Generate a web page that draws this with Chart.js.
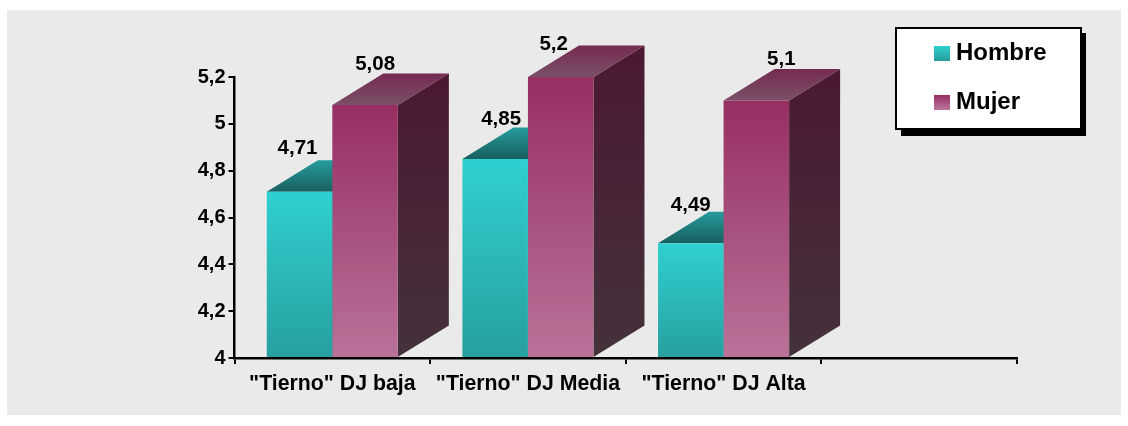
<!DOCTYPE html>
<html><head><meta charset="utf-8">
<style>html,body{margin:0;padding:0;background:#fff}canvas{display:block}</style>
<script src="https://cdn.jsdelivr.net/npm/chart.js@4"></script></head>
<body><div style="width:1128px;height:426px"><canvas id="c" width="1128" height="426"></canvas></div>
<script>
const categories = ['"Tierno" DJ baja', '"Tierno" DJ Media', '"Tierno" DJ Alta', ''];
const hombre = [4.71, 4.85, 4.49, null];
const mujer = [5.08, 5.2, 5.1, null];
const yMin = 4, yMax = 5.2, yStep = 0.2;

const FONT = '"Liberation Sans", Arial, sans-serif';
const DX = 51, DY = 31.5;
const palettes = [
  {front:['#30D0D0','#279F9F'], side:['#123F3F','#123F3F'], top:['#269C9C','#175F5F']},
  {front:['#962F62','#BA7299'], side:['#4C1833','#44323B'], top:['#762A52','#7A5068']}
];
const labelShift = [[[-2,-43],[6,-40],[0,-38]],[[10,-41],[-7,-33],[25,-41]]];
const comma = v => String(+Number(v).toFixed(2)).replace('.', ',');

function frontGradient(i){
  return ctx => {
    const ch = ctx.chart;
    if(!ch.chartArea || ctx.raw == null) return palettes[i].front[0];
    const y = ch.scales.y, top = y.getPixelForValue(ctx.raw), bot = y.getPixelForValue(yMin);
    const g = ch.ctx.createLinearGradient(0, top, 0, bot);
    g.addColorStop(0, palettes[i].front[0]); g.addColorStop(1, palettes[i].front[1]);
    return g;
  };
}
function poly(c, pts, fill){
  c.beginPath(); pts.forEach((p,k)=>k?c.lineTo(p[0],p[1]):c.moveTo(p[0],p[1])); c.closePath();
  c.fillStyle = fill; c.fill();
}
const bars3d = {
  id:'bars3d',
  beforeDraw(ch){
    const c = ch.ctx; c.save();
    c.fillStyle = '#fff'; c.fillRect(0,0,ch.width,ch.height);
    c.fillStyle = '#EAEAEA'; c.fillRect(7,10,1114,405);
    c.restore();
  },
  beforeDatasetsDraw(ch){
    const c = ch.ctx; c.save();
    ch.data.datasets.forEach((ds,i)=>{
      const pal = palettes[i];
      ch.getDatasetMeta(i).data.forEach((el,j)=>{
        if(ds.data[j] == null) return;
        const l = el.x - el.width/2, r = el.x + el.width/2, t = el.y, b = el.base;
        let g = c.createLinearGradient(0,t-DY,0,b);
        g.addColorStop(0,pal.side[0]); g.addColorStop(1,pal.side[1]);
        poly(c,[[r,t],[r+DX,t-DY],[r+DX,b-DY],[r,b]],g);
        g = c.createLinearGradient(0,t-DY,0,t);
        g.addColorStop(0,pal.top[0]); g.addColorStop(1,pal.top[1]);
        poly(c,[[l,t],[r,t],[r+DX,t-DY],[l+DX,t-DY]],g);
      });
    });
    c.restore();
  },
  afterDatasetsDraw(ch){
    const c = ch.ctx; c.save();
    c.font = 'bold 20.5px '+FONT; c.fillStyle = '#000'; c.textAlign='center'; c.textBaseline='middle';
    ch.data.datasets.forEach((ds,i)=>{
      ch.getDatasetMeta(i).data.forEach((el,j)=>{
        if(ds.data[j] == null) return;
        const s = labelShift[i][j];
        c.fillText(comma(ds.data[j]), el.x+s[0], el.y+s[1]);
      });
    });
    // legend
    c.fillStyle='#000'; c.fillRect(901,33,185,103);
    c.fillStyle='#000'; c.fillRect(895,27,187,103);
    c.fillStyle='#fff'; c.fillRect(897,29,183,99);
    c.font='bold 24px '+FONT; c.textAlign='left';
    ch.data.datasets.forEach((ds,i)=>{
      const y = i ? 102 : 53;
      const g = c.createLinearGradient(0,y-7,0,y+7);
      g.addColorStop(0,palettes[i].front[0]); g.addColorStop(1,palettes[i].front[1]);
      c.fillStyle=g; c.fillRect(934,y-7,16,15);
      c.fillStyle='#000'; c.fillText(ds.label,956,y);
    });
    c.restore();
  }
};
new Chart(document.getElementById('c'),{
  type:'bar',
  data:{labels:categories,datasets:[
    {label:'Hombre',data:hombre,base:yMin,backgroundColor:frontGradient(0),borderWidth:0},
    {label:'Mujer',data:mujer,base:yMin,backgroundColor:frontGradient(1),borderWidth:0}
  ]},
  plugins:[bars3d],
  options:{
    responsive:false,animation:false,
    layout:{padding:{left:194.5,right:111,top:77,bottom:18}},
    datasets:{bar:{categoryPercentage:0.67,barPercentage:1}},
    plugins:{legend:{display:false},tooltip:{enabled:false}},
    scales:{
      x:{
        afterFit:s=>{s.height=50},
        border:{color:'#000',width:2.5},
        grid:{drawOnChartArea:false,color:'#000',lineWidth:2,tickLength:6,offset:true},
        ticks:{color:'#000',font:{family:FONT,size:21.3,weight:'bold'},maxRotation:0,autoSkip:false,padding:7}
      },
      y:{
        min:yMin,max:yMax,
        afterFit:s=>{s.width=40},
        border:{color:'#000',width:2.5},
        grid:{drawOnChartArea:false,color:'#000',lineWidth:2,tickLength:6},
        ticks:{stepSize:yStep,color:'#000',font:{family:FONT,size:20,weight:'bold'},padding:3,callback:v=>comma(v)}
      }
    }
  }
});
</script></body></html>
